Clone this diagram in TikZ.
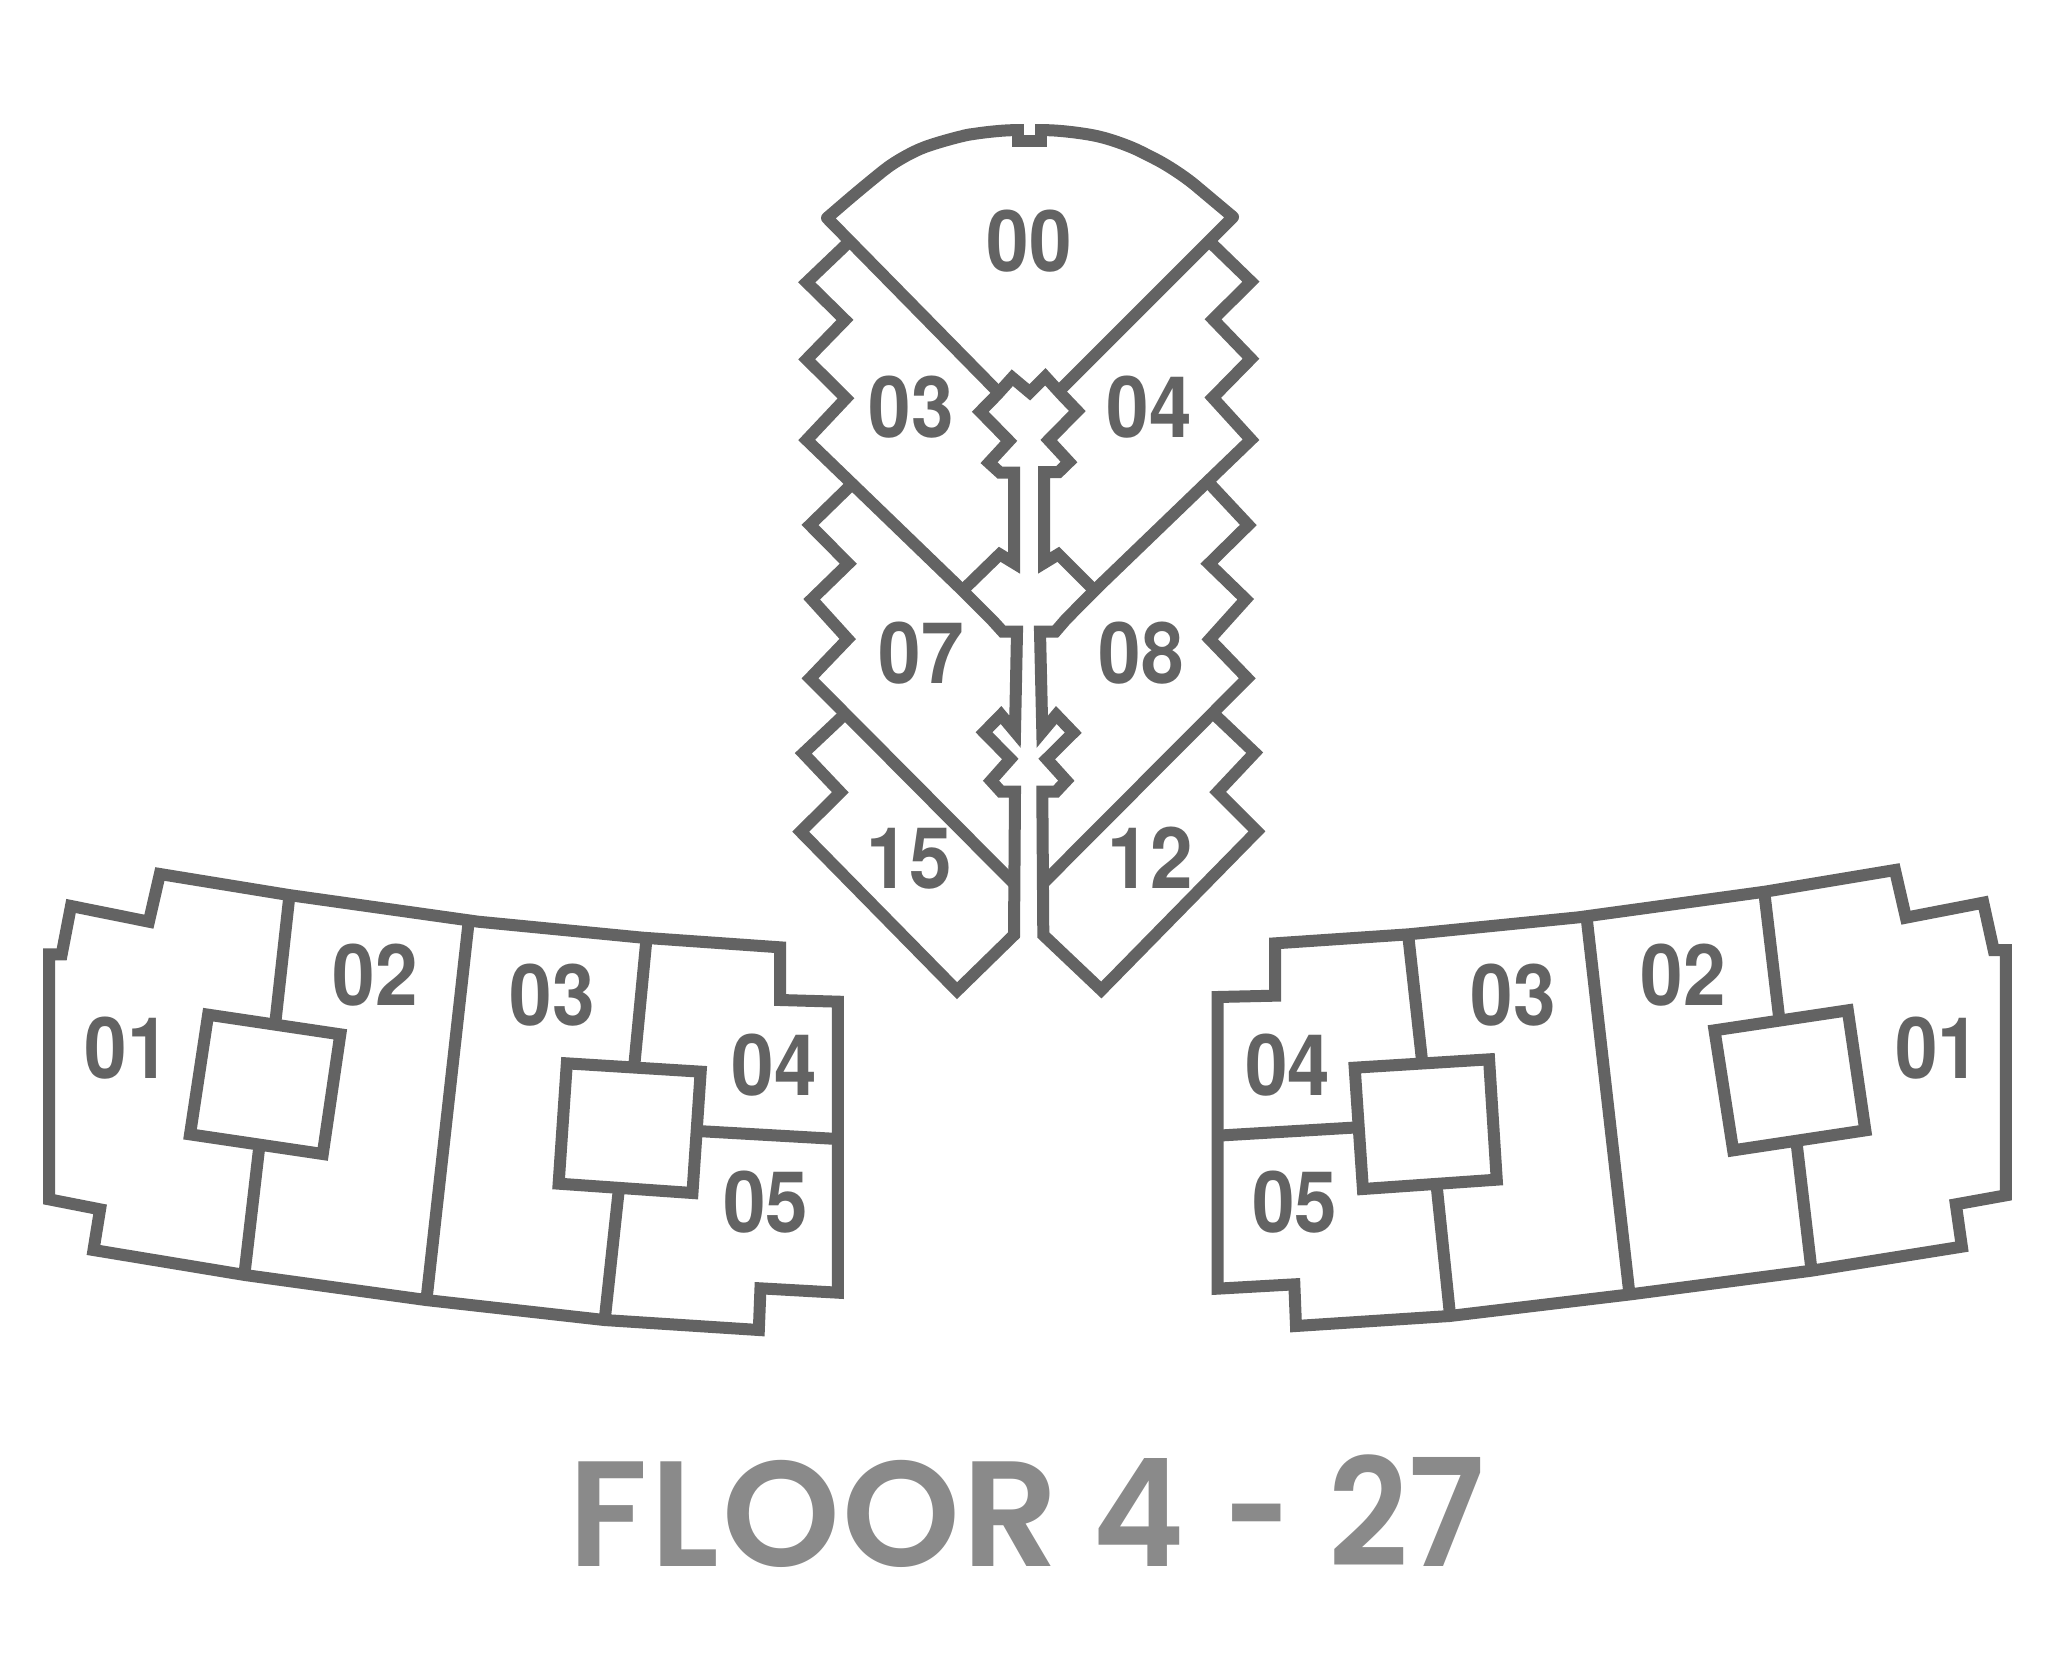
\documentclass[tikz,border=0pt]{standalone}
\usepackage{fontspec}
\setmainfont{TeX Gyre Heros}
\newfontfamily\titlefont{Poppins SemiBold}
\definecolor{wallgray}{HTML}{636363}
\definecolor{titlegray}{HTML}{8A8A8A}
\newcommand{\lab}[1]{\scalebox{.9}[1]{#1}}
\tikzset{
  wall/.style={draw=wallgray,line width=12pt,line join=miter,miter limit=10},
  numlabel/.style={anchor=base,text=wallgray,inner sep=0pt,font=\fontsize{85}{85}\selectfont\bfseries},
  leftplan/.style={x=0.5485pt,y=-0.33333pt,xshift=20pt,yshift=-850pt},
  rightplan/.style={x=0.5485pt,y=-0.33333pt,xshift=1200pt,yshift=-850pt}
}
\begin{document}
\begin{tikzpicture}[x=1pt,y=-1pt]
\useasboundingbox (0,0) rectangle (2060,1672);
% tower
\draw[wall,line join=round] (1000,394) -- (827,218) [rounded corners=24pt] -- (863,187) -- (903,155) -- (947,139) -- (987,131) -- (1018,130);
\draw[wall] (1018,124) -- (1018,141) -- (1041,141) -- (1041,124);
\draw[wall,line join=round] (1060,390) -- (1233,217) [rounded corners=24pt] -- (1177,170) -- (1120,141) -- (1073,131) -- (1041,130);
\draw[wall] (961,592) -- (999.7,554.3) -- (1014,563) -- (1014,472.7) -- (1000,472.7) -- (989,462.7) -- (1009,441) -- (980.3,411.7) -- (996.7,395) -- (1012.3,377.7) -- (1029.7,392.3) -- (1045.3,376.7) -- (1062,395) -- (1077.3,411) -- (1048.7,440) -- (1069,462) -- (1058.7,472) -- (1044,472) -- (1044,563) -- (1058.3,554.3) -- (1096,592);
\draw[wall] (851,240) -- (806.7,282.3) -- (845,320) -- (806.7,359.3) -- (846,398.3) -- (806.7,440) -- (959,587) -- (992.7,620.7) -- (1002.7,631.7) -- (1017,631.7) -- (1015,731.7) -- (1001,715) -- (984,732.3) -- (1010.3,759) -- (991,780.7) -- (1001,791.7) -- (1015,791.7) -- (1014,935) -- (957,990.7) -- (800.7,831.7) -- (840.3,792.3) -- (803.3,753.3) -- (845,714);
\draw[wall] (851,485) -- (810,525) -- (848.3,563.7) -- (811.7,599.3) -- (847.7,639) -- (810,678.3) -- (1014.5,884);
\draw[wall] (1208,240) -- (1251,281.7) -- (1213,319.3) -- (1251,358.7) -- (1212.7,397.7) -- (1251,439.7) -- (1098.3,586.7) -- (1066,619.3) -- (1055.3,631.7) -- (1040,631.7) -- (1042.3,731.7) -- (1056.3,715) -- (1073.3,732.7) -- (1046.7,759) -- (1066.3,780.7) -- (1056,791.7) -- (1042.3,791.7) -- (1043.3,935) -- (1101.3,990) -- (1257,831.3) -- (1217.7,792) -- (1254.7,752.7) -- (1215,715);
\draw[wall] (1209,483) -- (1248.3,525) -- (1209,563.7) -- (1245.7,599.3) -- (1209.7,639.3) -- (1247.3,678.3) -- (1043.3,883);
\node[numlabel] (t00) at (1029.5,271) {\lab{00}};
\node[numlabel] (t03) at (911,437) {\lab{03}};
\node[numlabel] (t04) at (1149.5,437) {\lab{04}};
\node[numlabel] (t07) at (921,683) {\lab{07}};
\node[numlabel] (t08) at (1141,683) {\lab{08}};
\node[numlabel] (t15) at (909,888.5) {\lab{15}};
\node[numlabel] (t12) at (1150,888.5) {\lab{12}};
% left plan
\begin{scope}[leftplan]
\draw[wall] (53,1048) -- (53,313) -- (76,313) -- (93,168) -- (235,215) -- (255,72) -- (490,135) -- (835,215) -- (1135,263) -- (1386,292) -- (1386,450) -- (1491,455) -- (1491,1328) -- (1350,1315) -- (1347,1440) -- (1065,1410) -- (740,1350) -- (410,1275) -- (134,1200) -- (146,1078) -- cycle;
\draw[wall] (343,494) -- (584,553) -- (552,912) -- (310,853) -- cycle;
\draw[wall] (997,640) -- (1241,665) -- (1226,1029) -- (982,1001) -- cycle;
\draw[wall] (491,140) -- (466,510);
\draw[wall] (437,880) -- (409,1275);
\draw[wall] (818,215) -- (741,1350);
\draw[wall] (1142,270) -- (1120,645);
\draw[wall] (1092,1015) -- (1066,1410);
\draw[wall] (1235,843) -- (1491,867);
\node[numlabel] (l01) at (196,685) {\lab{01}};
\node[numlabel] (l02) at (648,465) {\lab{02}};
\node[numlabel] (l03) at (970,525) {\lab{03}};
\node[numlabel] (l04) at (1375,735) {\lab{04}};
\node[numlabel] (l05) at (1360,1146) {\lab{05}};
\end{scope}
% right plan
\begin{scope}[rightplan]
\draw[wall] (32,1316) -- (32,441) -- (137,437) -- (137,280) -- (380,253) -- (690,202) -- (1030,125) -- (1267,60) -- (1287,203) -- (1428,158) -- (1447,300) -- (1469,300) -- (1469,1036) -- (1378,1063) -- (1389,1190) -- (1115,1262) -- (785,1333) -- (455,1398) -- (175,1428) -- (172,1303) -- cycle;
\draw[wall] (282,653) -- (527,628) -- (541,989) -- (297,1017) -- cycle;
\draw[wall] (938,541) -- (1181,481) -- (1213,841) -- (972,901) -- cycle;
\draw[wall] (380,262) -- (405,635);
\draw[wall] (431,1000) -- (456,1398);
\draw[wall] (705,205) -- (783,1333);
\draw[wall] (32,857) -- (288,832);
\draw[wall] (1029,130) -- (1056,505);
\draw[wall] (1087,870) -- (1115,1262);
\node[numlabel] (r04) at (160,735) {\lab{04}};
\node[numlabel] (r03) at (571,525) {\lab{03}};
\node[numlabel] (r02) at (881,465) {\lab{02}};
\node[numlabel] (r01) at (1345,685) {\lab{01}};
\node[numlabel] (r05) at (173,1146) {\lab{05}};
\end{scope}
\node[anchor=base west,text=titlegray,inner sep=0pt,font=\titlefont\fontsize{150}{150}\selectfont] (title) at (568.5,1566) {F\kern2.6pt L\kern2.6pt O\kern2.6pt O\kern2.6pt R \kern-2.6pt\scalebox{.93}[1]{4} \kern4pt\scalebox{.76}[1]{-} \kern2.6pt\scalebox{.93}[1]{27}};
\end{tikzpicture}
\end{document}
